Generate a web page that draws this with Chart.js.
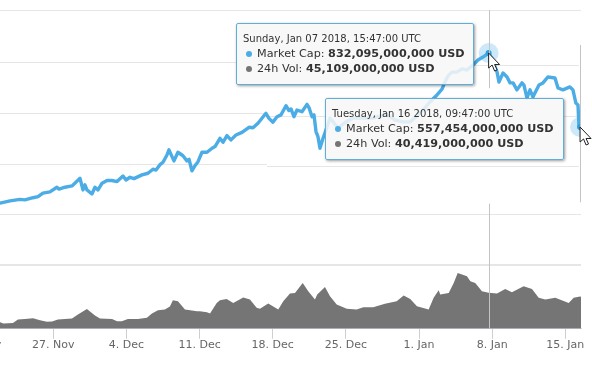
<!DOCTYPE html>
<html>
<head>
<meta charset="utf-8">
<title>Market Cap</title>
<script src="https://cdn.jsdelivr.net/npm/chart.js@4/dist/chart.umd.min.js"></script>
<style>
    html, body { margin: 0; padding: 0; background: #fff; overflow: hidden; width: 592px; height: 370px; }
    #wrap { position: relative; width: 592px; height: 370px; overflow: hidden; }
    #chart { position: absolute; left: -60px; top: 0; }
    .tip {
        position: absolute; box-sizing: border-box;
        background: rgba(247, 247, 247, 0.86);
        border: 1px solid #5fadd9; border-radius: 2px;
        box-shadow: 1px 1px 3px rgba(0, 0, 0, 0.4);
        font-family: "DejaVu Sans", sans-serif; color: #333; white-space: nowrap;
    }
    .tip div { position: absolute; left: 20px; font-size: 11.2px; line-height: 15px; }
    .tip div.date { left: 6px; font-size: 10px; top: 7px; }
    .tip i { position: absolute; left: -11px; top: 5px; width: 6px; height: 6px; border-radius: 50%; }
</style>
</head>
<body>
<div id="wrap"><canvas id="chart" width="652" height="370"></canvas></div>
<script>
// days counted from 27 Nov 2017, money in billions of USD
const capDays = [-5.2,-4.14,-3.19,-2.71,-1.94,-1.46,-0.99,-0.32,0.35,0.55,1.12,1.79,2.56,2.84,3.03,3.22,3.7,3.99,4.28,4.67,5.14,5.62,6.1,6.67,6.96,7.34,7.72,8.49,9.06,9.54,9.83,10.21,10.5,10.88,11.07,11.55,11.93,12.41,12.79,12.99,13.27,13.56,13.85,14.23,14.71,15.19,15.48,15.95,16.24,16.62,17,17.48,18.06,18.73,19.11,19.59,20.35,20.64,21.02,21.41,21.79,22.27,22.55,22.75,23.03,23.32,23.8,24.28,24.47,24.76,24.95,25.14,25.33,25.52,25.81,26,26.48,27.24,28.01,28.68,29.63,30.59,31.26,31.93,32.7,33.47,34.14,34.9,35.57,36.05,36.62,37.2,37.48,37.77,38.15,38.63,39.11,39.59,40.16,40.64,41.12,41.66,41.97,42.47,42.65,43.04,43.42,43.71,44,44.37,44.85,45.04,45.33,45.62,45.9,46.48,46.86,47.34,48.01,48.3,48.77,49.44,49.73,50.01,50.21,50.3,50.41];
const capValues = [273,282,288,286,294,298,311,316,333,326,333,338,366,323,342,323,308,333,323,348,358,358,354,375,360,370,365,379,385,400,397,417,426,453,472,431,463,450,431,437,394,413,428,463,463,478,484,515,500,525,509,527,537,556,554,571,608,589,575,595,602,636,618,624,595,620,614,641,629,595,602,540,521,478,515,535,590,553,576,590,590,590,598,602,583,576,576,602,628,650,672,698,724,747,761,761,773,769,787,806,817,832,813,761,724,758,743,721,721,695,721,713,665,695,669,713,721,743,739,702,695,706,695,646,639,565,557];

const volDays = [-5.2,-4.78,-3.86,-3.38,-2.71,-1.94,-1.27,-0.6,-0.12,0.45,1.79,2.36,3.22,3.99,4.47,5.62,6.1,6.56,7.14,8.1,8.96,9.44,10.02,10.68,11.16,11.45,11.93,12.6,13.75,14.03,14.7,15,15.64,15.95,16.59,17.22,18.18,18.82,19.46,19.78,20.57,21.53,22.01,22.65,23.13,23.87,24.4,25.04,25.26,26,26.48,27.12,28.08,29.03,29.67,30.62,31.74,32.86,33.53,34.16,34.8,35.92,36.4,36.88,37.03,37.84,38.32,38.7,39.59,39.91,40.38,41.02,41.66,42.46,43.25,43.89,45.01,45.81,46.45,47.08,48.04,49.32,49.8,50.41,50.5];
const volValues = [8.7,6.6,7.4,11.6,12.4,13.3,10.8,8.7,9.1,11.6,12.8,17.9,24.9,16.6,12.8,12.4,9.5,9.5,12.4,12.4,13.7,19.1,23.3,24.1,28,35.8,34.5,24.1,22,22,20.8,19.1,32.4,35.8,37.4,32.4,39.1,36.6,26.2,25,31.6,24.1,34.5,44.1,44.9,57.4,47,36.6,42.9,52.4,40.8,30.3,25,24.1,27,27,31.2,34.5,41.6,37.4,28.3,24.1,38.7,48.3,42.9,44.9,57.4,69.9,65.8,59.5,57.4,47,45.1,44.1,49.9,45.8,53.3,49.9,38.7,36.6,38.7,32.4,38.7,40.4,40];

const tickDays = [-7, 0, 7, 14, 21, 28, 35, 42, 49];
const tickLabels = ['20. Nov', '27. Nov', '4. Dec', '11. Dec', '18. Dec', '25. Dec', '1. Jan', '8. Jan', '15. Jan'];

const hoverDays = [41.66, 50.41];
const hoverCaps = [832, 557];
const hoverDates = ['Sunday, Jan 07 2018, 15:47:00 UTC', 'Tuesday, Jan 16 2018, 09:47:00 UTC'];
const hoverCapTexts = ['832,095,000,000 USD', '557,454,000,000 USD'];
const hoverVolTexts = ['45,109,000,000 USD', '40,419,000,000 USD'];

// the picture is two screenshots pasted together, so the grid does not line up on the right
// [market cap, from day, to day, width]
const gridLines = [
    [992, -11, 50.5, 1], [799, -11, 17.5, 1], [787.5, 40.2, 50.3, 1],
    [609, -11, 20.45, 1], [598, 20.45, 26, 1], [598, 48.8, 50.3, 1],
    [420, -11, 20.45, 1], [412, 20.45, 50.3, 1],
    [232, -11, 50.5, 1], [44, -11, 50.5, 2]
];
// [day, top cap, bottom cap]
const crosshairs = [[41.66, 992, 701], [41.66, 272, -193], [50.36, 862, 277]];

const blue = '#4cade6';

const sketchPlugin = {
    id: 'sketch',
    beforeDatasetsDraw(chart) {
        const c = chart.ctx, x = chart.scales.x, y = chart.scales.y;
        c.save();
        gridLines.forEach(function (g) {
            c.strokeStyle = '#e6e6e6';
            c.lineWidth = g[3];
            const py = Math.round(y.getPixelForValue(g[0])) + (g[3] == 1 ? 0.5 : 0);
            c.beginPath();
            c.moveTo(x.getPixelForValue(g[1]), py);
            c.lineTo(x.getPixelForValue(g[2]), py);
            c.stroke();
        });
        c.restore();
    },
    afterDatasetsDraw(chart) {
        const c = chart.ctx, x = chart.scales.x, y = chart.scales.y;
        c.save();
        c.strokeStyle = '#c4c4c4';
        c.lineWidth = 1;
        crosshairs.forEach(function (h) {
            const px = Math.round(x.getPixelForValue(h[0])) + 0.5;
            c.beginPath();
            c.moveTo(px, y.getPixelForValue(h[1]));
            c.lineTo(px, y.getPixelForValue(h[2]));
            c.stroke();
        });
        // mouse arrows on the two hovered points
        const arrow = [[0, 0], [0, 15], [3.5, 12], [6, 18], [8.5, 17], [6, 11.5], [11, 11.5]];
        hoverDays.forEach(function (d, i) {
            const px = x.getPixelForValue(d), py = y.getPixelForValue(hoverCaps[i]);
            c.beginPath();
            arrow.forEach(function (p, n) {
                if (n == 0) c.moveTo(px + p[0], py + p[1]);
                else c.lineTo(px + p[0], py + p[1]);
            });
            c.closePath();
            c.fillStyle = '#fff';
            c.fill();
            c.strokeStyle = '#222';
            c.stroke();
        });
        c.restore();
    }
};

function pairs(xs, ys) {
    return xs.map(function (v, i) { return { x: v, y: ys[i] }; });
}

new Chart(document.getElementById('chart'), {
    type: 'line',
    data: {
        datasets: [
            { label: 'hover', data: pairs(hoverDays, hoverCaps), yAxisID: 'y', showLine: false, pointRadius: 3, pointBackgroundColor: '#2f9ede', pointBorderWidth: 0, order: 0 },
            { label: 'halo', data: pairs(hoverDays, hoverCaps), yAxisID: 'y', showLine: false, pointRadius: 10, pointBackgroundColor: 'rgba(76, 173, 230, 0.28)', pointBorderWidth: 0, order: 1 },
            { label: 'Market Cap', data: pairs(capDays, capValues), yAxisID: 'y', borderColor: blue, borderWidth: 3.4, pointRadius: 0, tension: 0, borderJoinStyle: 'round', order: 2 },
            { label: '24h Vol', data: pairs(volDays, volValues), yAxisID: 'vol', borderWidth: 0, pointRadius: 0, tension: 0, fill: 'origin', backgroundColor: '#757575', order: 3 }
        ]
    },
    options: {
        responsive: false,
        animation: false,
        layout: { autoPadding: false, padding: { top: 10, right: 11, left: 0, bottom: 18 } },
        plugins: { legend: { display: false }, tooltip: { enabled: false } },
        scales: {
            x: {
                type: 'linear',
                min: -10.84,
                max: 50.5,
                grid: { drawOnChartArea: false, tickLength: 10, tickColor: '#cfcfcf' },
                border: { color: '#d3d8e2' },
                afterBuildTicks: function (axis) {
                    axis.ticks = tickDays.map(function (v) { return { value: v }; });
                },
                // first and last labels sit inside the plot, no room needed for them
                afterFit: function (axis) {
                    axis.paddingLeft = 0;
                    axis.paddingRight = 0;
                },
                ticks: {
                    autoSkip: false,
                    maxRotation: 0,
                    padding: 0,
                    color: '#666',
                    font: { family: '"DejaVu Sans"', size: 11 },
                    callback: function (v) { return tickLabels[tickDays.indexOf(v)]; }
                }
            },
            y: { display: false, min: -193.4, max: 992 },
            vol: { display: false, min: 0, max: 398.75 }
        }
    },
    plugins: [sketchPlugin]
});

// the two pinned tooltips, left/top/width/height of each box
const tipBoxes = [[236, 23, 238, 62], [325, 98, 239, 62]];
tipBoxes.forEach(function (b, i) {
    const tip = document.createElement('div');
    tip.className = 'tip';
    tip.style.cssText = 'left:' + b[0] + 'px;top:' + b[1] + 'px;width:' + b[2] + 'px;height:' + b[3] + 'px';
    tip.innerHTML =
        '<div class="date">' + hoverDates[i] + '</div>' +
        '<div style="top:22px"><i style="background:' + blue + '"></i>Market Cap: <b>' + hoverCapTexts[i] + '</b></div>' +
        '<div style="top:37px"><i style="background:#757575"></i>24h Vol: <b>' + hoverVolTexts[i] + '</b></div>';
    document.getElementById('wrap').appendChild(tip);
});
</script>
</body>
</html>
